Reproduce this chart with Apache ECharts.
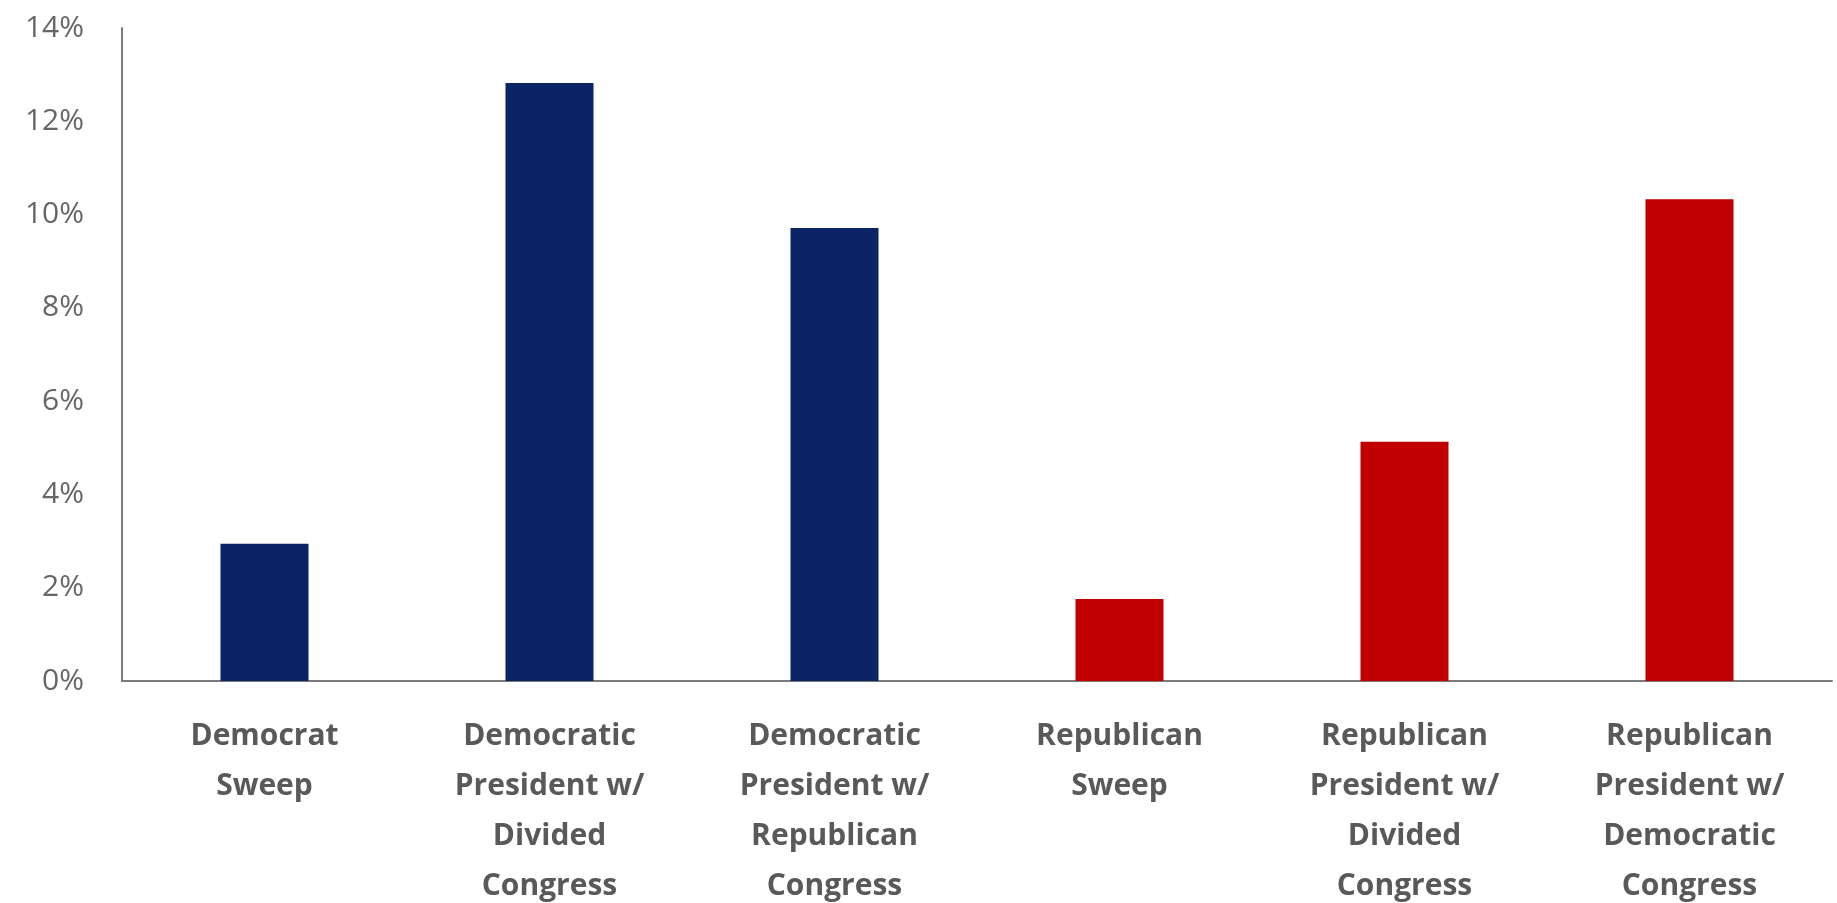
<!DOCTYPE html>
<html>
<head>
<meta charset="utf-8">
<script src="https://cdn.jsdelivr.net/npm/echarts@6/dist/echarts.min.js"></script>
<style>
html,body{margin:0;padding:0;background:#fff;}
#chart{width:1837px;height:903px;}
</style>
</head>
<body>
<div id="chart"></div>
<script>
const categories = [
  "Democrat\nSweep",
  "Democratic\nPresident w/\nDivided\nCongress",
  "Democratic\nPresident w/\nRepublican\nCongress",
  "Republican\nSweep",
  "Republican\nPresident w/\nDivided\nCongress",
  "Republican\nPresident w/\nDemocratic\nCongress"
];
const values = [2.94, 12.82, 9.71, 1.76, 5.13, 10.33];
const barColors = ["#0b2466", "#0b2466", "#0b2466", "#c00000", "#c00000", "#c00000"];
const yTicks = [0, 2, 4, 6, 8, 10, 12, 14];

const chart = echarts.init(document.getElementById('chart'));
chart.setOption({
  animation: false,
  backgroundColor: '#ffffff',
  grid: {left: 122, right: 5, top: 28, bottom: 222, containLabel: false, outerBoundsMode: 'none'},
  xAxis: {
    type: 'category',
    data: categories,
    axisLine: {show: true, lineStyle: {color: '#7a7a7a', width: 2}},
    axisTick: {show: false},
    axisLabel: {
      interval: 0,
      color: '#595959',
      fontFamily: 'Open Sans',
      fontWeight: 'bold',
      fontSize: 30,
      lineHeight: 50,
      margin: 30
    }
  },
  yAxis: {
    type: 'value',
    min: yTicks[0],
    max: yTicks[yTicks.length - 1],
    interval: 2,
    axisLine: {show: true, lineStyle: {color: '#7a7a7a', width: 2}},
    axisTick: {show: false},
    splitLine: {show: false},
    axisLabel: {
      color: '#666666',
      fontFamily: 'Open Sans',
      fontSize: 30,
      margin: 38,
      formatter: v => v + '%'
    }
  },
  series: [{
    type: 'bar',
    data: values.map((v, i) => ({value: v, itemStyle: {color: barColors[i]}})),
    barWidth: 88
  }]
});
</script>
</body>
</html>
